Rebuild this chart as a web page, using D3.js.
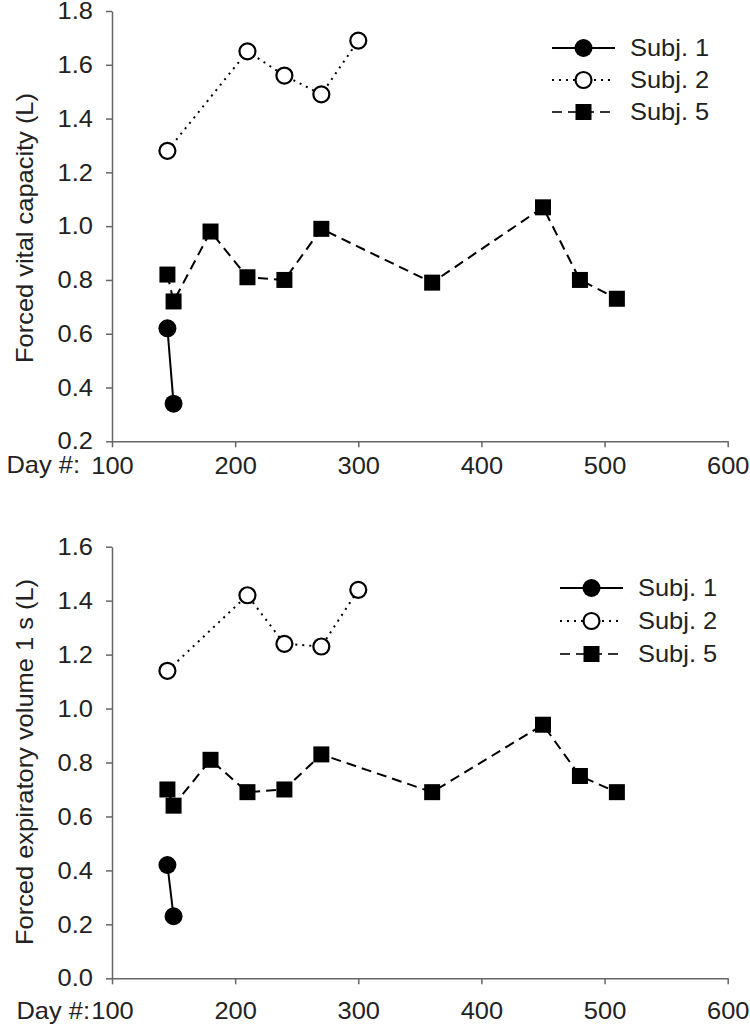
<!DOCTYPE html>
<html>
<head>
<meta charset="utf-8">
<script src="https://cdn.jsdelivr.net/npm/d3@7"></script>
<style>
  html, body { margin: 0; padding: 0; background: #fff; }
  svg { display: block; }
  text { font-family: "Liberation Sans", Arial, Helvetica, sans-serif; fill: #222; }
</style>
</head>
<body>
<script>
// ---------- DATA ----------
const series = ["Subj. 1", "Subj. 2", "Subj. 5"];
const xTicks = [100, 200, 300, 400, 500, 600];

// Panel A: Forced vital capacity (L)
const fvcDays1 = [145, 150];
const fvcSubj1 = [0.62, 0.34];
const fvcDays2 = [145, 210, 240, 270, 300];
const fvcSubj2 = [1.28, 1.65, 1.56, 1.49, 1.69];
const fvcDays5 = [145, 150, 180, 210, 240, 270, 360, 450, 480, 510];
const fvcSubj5 = [0.82, 0.72, 0.98, 0.81, 0.80, 0.99, 0.79, 1.07, 0.80, 0.73];
const fvcYTicks = [0.2, 0.4, 0.6, 0.8, 1.0, 1.2, 1.4, 1.6, 1.8];

// Panel B: Forced expiratory volume 1 s (L)
const fevDays1 = [145, 150];
const fevSubj1 = [0.42, 0.23];
const fevDays2 = [145, 210, 240, 270, 300];
const fevSubj2 = [1.14, 1.42, 1.24, 1.23, 1.44];
const fevDays5 = [145, 150, 180, 210, 240, 270, 360, 450, 480, 510];
const fevSubj5 = [0.70, 0.64, 0.81, 0.69, 0.70, 0.83, 0.69, 0.94, 0.75, 0.69];
const fevYTicks = [0.0, 0.2, 0.4, 0.6, 0.8, 1.0, 1.2, 1.4, 1.6];

// ---------- DRAW ----------
const W = 750, H = 1026;
const FS = 24, SX = 1.06;
const axisColor = "#666";

const svg = d3.select("body").append("svg").attr("width", W).attr("height", H);

const styles = {
  "Subj. 1": { dash: null, marker: "filled" },
  "Subj. 2": { dash: "2,5", marker: "open" },
  "Subj. 5": { dash: "10,6", marker: "square" }
};

function drawMarker(g, type, x, y) {
  if (type === "filled") {
    g.append("circle").attr("cx", x).attr("cy", y).attr("r", 9).attr("fill", "#000");
  } else if (type === "open") {
    g.append("circle").attr("cx", x).attr("cy", y).attr("r", 8)
      .attr("fill", "#fff").attr("stroke", "#000").attr("stroke-width", 2.2);
  } else {
    g.append("rect").attr("x", x - 8).attr("y", y - 8).attr("width", 16).attr("height", 16)
      .attr("fill", "#000");
  }
}

function panel(cfg) {
  const x = d3.scaleLinear().domain([100, 600]).range([112, 727.7]);
  const y = d3.scaleLinear().domain(cfg.yDomain).range(cfg.yRange);
  const g = svg.append("g");

  // axes
  const yAxis = d3.axisLeft(y).tickValues(cfg.yTicks).tickFormat(d3.format(".1f"))
    .tickSize(6).tickSizeOuter(0).tickPadding(12);
  const gy = g.append("g").attr("transform", `translate(${x(100)},0)`).call(yAxis);
  const xAxis = d3.axisBottom(x).tickValues(xTicks).tickFormat(d3.format("d"))
    .tickSize(6).tickSizeOuter(0).tickPadding(cfg.xPad);
  const gx = g.append("g").attr("transform", `translate(0,${y(cfg.yDomain[0])})`).call(xAxis);
  [gx, gy].forEach(a => {
    a.select(".domain").attr("stroke", axisColor).attr("stroke-width", 1.5);
    a.selectAll(".tick line").attr("stroke", axisColor).attr("stroke-width", 1.5);
    a.selectAll(".tick text").attr("font-size", FS).attr("fill", "#222")
      .attr("font-family", '"Liberation Sans", Arial, sans-serif')
      .attr("transform", `scale(${SX},1)`);
  });

  // Day #: label
  g.append("text")
    .attr("transform", `translate(${cfg.dayX},${cfg.dayY}) scale(${SX},1)`)
    .attr("text-anchor", "end").attr("font-size", FS).text("Day #:");

  // y title
  g.append("text")
    .attr("transform", `translate(25,${cfg.titleY}) rotate(-90) scale(${SX},1)`)
    .attr("text-anchor", "middle").attr("dy", "0.35em").attr("font-size", FS)
    .text(cfg.title);

  // series
  const data = [
    { name: "Subj. 1", xs: cfg.d1, ys: cfg.v1 },
    { name: "Subj. 2", xs: cfg.d2, ys: cfg.v2 },
    { name: "Subj. 5", xs: cfg.d5, ys: cfg.v5 }
  ];
  const line = d3.line().x(d => x(d[0])).y(d => y(d[1]));
  data.forEach(s => {
    const pts = s.xs.map((d, i) => [d, s.ys[i]]);
    const st = styles[s.name];
    g.append("path").attr("d", line(pts)).attr("fill", "none").attr("stroke", "#000")
      .attr("stroke-width", 2).attr("stroke-dasharray", st.dash);
    pts.forEach(p => drawMarker(g, st.marker, x(p[0]), y(p[1])));
  });

  // legend
  const lg = g.append("g");
  series.forEach((name, i) => {
    const st = styles[name];
    const yy = cfg.legY + i * cfg.legStep;
    lg.append("line").attr("x1", cfg.legX).attr("x2", cfg.legX + 63)
      .attr("y1", yy).attr("y2", yy).attr("stroke", name === "Subj. 5" ? "#333" : "#000")
      .attr("stroke-width", 2).attr("stroke-dasharray", st.dash);
    drawMarker(lg, st.marker, cfg.legX + 31.5, yy);
    lg.append("text")
      .attr("transform", `translate(${cfg.legX + 78},${yy}) scale(${SX},1)`)
      .attr("dy", "0.35em").attr("font-size", FS).text(name);
  });
}

panel({
  yDomain: [0.2, 1.8], yRange: [441.3, 11], yTicks: fvcYTicks,
  xPad: 10, dayX: 80, dayY: 473, titleY: 228,
  title: "Forced vital capacity (L)",
  d1: fvcDays1, v1: fvcSubj1, d2: fvcDays2, v2: fvcSubj2, d5: fvcDays5, v5: fvcSubj5,
  legX: 552, legY: 48, legStep: 32
});

panel({
  yDomain: [0.0, 1.6], yRange: [978.3, 546.7], yTicks: fevYTicks,
  xPad: 18, dayX: 90, dayY: 1019, titleY: 762,
  title: "Forced expiratory volume 1 s (L)",
  d1: fevDays1, v1: fevSubj1, d2: fevDays2, v2: fevSubj2, d5: fevDays5, v5: fevSubj5,
  legX: 560, legY: 588, legStep: 33
});
</script>
</body>
</html>
